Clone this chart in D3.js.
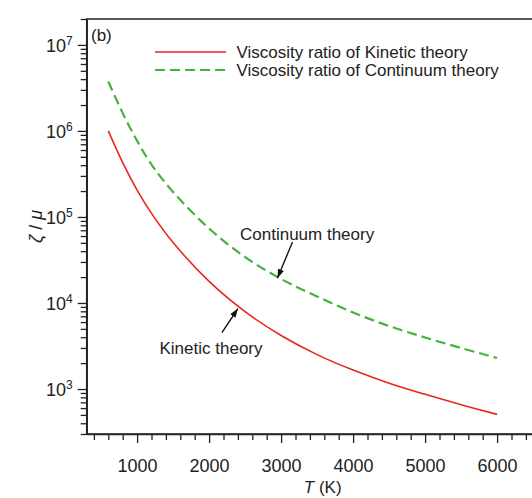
<!DOCTYPE html>
<html>
<head>
<meta charset="utf-8">
<script src="https://cdn.jsdelivr.net/npm/d3@7"></script>
<style>
  body { margin: 0; background: #fff; }
  svg { display: block; font-family: "Liberation Sans", Arial, sans-serif; }
</style>
</head>
<body>
<div id="chart"></div>
<script>
// Data
const TEMPS = [600, 800, 1000, 1200, 1500, 2000, 2500, 3000, 3500, 4000, 4500, 5000, 5500, 6000];
const KINETIC = [1.0e6, 4.27e5, 2.05e5, 1.1e5, 5.04e4, 1.78e4, 7.92e3, 4.19e3, 2.51e3, 1.66e3, 1.17e3, 868, 658, 507];
const CONTINUUM = [3.76e6, 1.61e6, 7.68e5, 4.07e5, 1.95e5, 7.34e4, 3.42e4, 1.9e4, 1.19e4, 7.75e3, 5.4e3, 3.97e3, 3.0e3, 2.29e3];
const SERIES_NAMES = ["Viscosity ratio of Kinetic theory", "Viscosity ratio of Continuum theory"];
const X_MAJOR = [1000, 2000, 3000, 4000, 5000, 6000];
const Y_MAJOR = [1e3, 1e4, 1e5, 1e6, 1e7];
const EXPONENTS = [3, 4, 5, 6, 7];

const FRAME_WIDTH = 532;
const FRAME_HEIGHT = 498;

const RED = "#e8261e";
const GREEN = "#45b23f";

const FRAME = d3.select("#chart")
                .append("svg")
                  .attr("width", FRAME_WIDTH)
                  .attr("height", FRAME_HEIGHT);

const X_SCALE = d3.scaleLinear()
                  .domain([300, 6800])
                  .range([86.7, 554.7]);

const Y_SCALE = d3.scaleLog()
                  .domain([300, 2e7])
                  .range([434, 19]);

// minor tick positions
const xMinor = d3.range(400, 6800, 200).filter(v => v % 1000 !== 0);
const yMinor = [];
for (let e = 2; e <= 7; e++) {
  for (let m = 2; m <= 9; m++) {
    const v = m * Math.pow(10, e);
    if (v >= 300 && v <= 2e7) yMinor.push(v);
  }
}

// frame (top / right)
FRAME.append("rect")
      .attr("x", X_SCALE(300))
      .attr("y", Y_SCALE(2e7))
      .attr("width", X_SCALE(6800) - X_SCALE(300))
      .attr("height", Y_SCALE(300) - Y_SCALE(2e7))
      .attr("fill", "none")
      .attr("stroke", "#222")
      .attr("stroke-width", 1.5);

// x axis minor
FRAME.append("g")
      .attr("transform", "translate(0," + Y_SCALE(300) + ")")
      .call(d3.axisBottom(X_SCALE).tickValues(xMinor).tickSize(6).tickSizeOuter(0).tickFormat(""))
      .call(g => g.select(".domain").remove())
      .selectAll("line").attr("stroke", "#222").attr("stroke-width", 1.3);

// x axis major
FRAME.append("g")
      .attr("transform", "translate(0," + Y_SCALE(300) + ")")
      .call(d3.axisBottom(X_SCALE).tickValues(X_MAJOR).tickSize(9).tickPadding(16).tickSizeOuter(0).tickFormat(d3.format("d")))
      .call(g => g.select(".domain").attr("stroke", "#222").attr("stroke-width", 1.5))
      .call(g => g.selectAll("line").attr("stroke", "#222").attr("stroke-width", 1.3))
      .call(g => g.selectAll("text").attr("font-size", "18px").attr("fill", "#222").attr("font-family", "Liberation Sans, Arial"));

// y axis minor
FRAME.append("g")
      .attr("transform", "translate(" + X_SCALE(300) + ",0)")
      .call(d3.axisLeft(Y_SCALE).tickValues(yMinor).tickSize(6).tickSizeOuter(0).tickFormat(""))
      .call(g => g.select(".domain").remove())
      .selectAll("line").attr("stroke", "#222").attr("stroke-width", 1.3);

// y axis major
const yAxis = FRAME.append("g")
      .attr("transform", "translate(" + X_SCALE(300) + ",0)")
      .call(d3.axisLeft(Y_SCALE).tickValues(Y_MAJOR).tickSize(9).tickSizeOuter(0).tickFormat(""))
      .call(g => g.select(".domain").attr("stroke", "#222").attr("stroke-width", 1.5))
      .call(g => g.selectAll("line").attr("stroke", "#222").attr("stroke-width", 1.3));

yAxis.selectAll(".tick").each(function(d, i) {
  const t = d3.select(this).append("text")
              .attr("x", -14)
              .attr("y", 6.5)
              .attr("text-anchor", "end")
              .attr("font-size", "18px")
              .attr("fill", "#222")
              .attr("font-family", "Liberation Sans, Arial");
  t.append("tspan").text("10");
  t.append("tspan").attr("font-size", "12px").attr("dy", "-7").text(EXPONENTS[i]);
});

// axis titles
FRAME.append("text")
      .attr("x", (X_SCALE(300) + X_SCALE(6800)) / 2 + 2)
      .attr("y", 493)
      .attr("text-anchor", "middle")
      .attr("font-size", "17px")
      .attr("fill", "#222")
      .call(t => t.append("tspan").attr("font-style", "italic").text("T"))
      .call(t => t.append("tspan").text(" (K)"));

FRAME.append("text")
      .attr("transform", "translate(42," + (Y_SCALE(300) + Y_SCALE(2e7)) / 2 + ") rotate(-90)")
      .attr("text-anchor", "middle")
      .attr("font-size", "18px")
      .attr("fill", "#222")
      .call(t => t.append("tspan").attr("font-style", "italic").text("ζ"))
      .call(t => t.append("tspan").text(" / "))
      .call(t => t.append("tspan").attr("font-style", "italic").text("μ"));

// panel label
FRAME.append("text")
      .attr("x", 91)
      .attr("y", 41)
      .attr("font-size", "17px")
      .attr("fill", "#222")
      .text("(b)");

// lines
const line = (vals) => d3.line()
                .x((d, i) => X_SCALE(TEMPS[i]))
                .y((d) => Y_SCALE(d))
                .curve(d3.curveCatmullRom.alpha(0.5))(vals);

FRAME.append("path")
      .attr("d", line(CONTINUUM))
      .attr("fill", "none")
      .attr("stroke", GREEN)
      .attr("stroke-width", 2.2)
      .attr("stroke-dasharray", "10,5");

FRAME.append("path")
      .attr("d", line(KINETIC))
      .attr("fill", "none")
      .attr("stroke", RED)
      .attr("stroke-width", 1.6);

// legend
const legendColors = [RED, GREEN];
const legendDash = [null, "10,5"];
SERIES_NAMES.forEach((name, i) => {
  const y = 52 + i * 18;
  FRAME.append("line")
        .attr("x1", 155).attr("x2", 226)
        .attr("y1", y).attr("y2", y)
        .attr("stroke", legendColors[i])
        .attr("stroke-width", i === 0 ? 1.6 : 2.2)
        .attr("stroke-dasharray", legendDash[i]);
  FRAME.append("text")
        .attr("x", 236.5)
        .attr("y", y + 5.5)
        .attr("font-size", "17px")
        .attr("fill", "#222")
        .text(name);
});

// annotations with arrows
FRAME.append("defs").append("marker")
      .attr("id", "arrow")
      .attr("viewBox", "0 0 10 10")
      .attr("refX", 10).attr("refY", 5)
      .attr("markerWidth", 9).attr("markerHeight", 9)
      .attr("markerUnits", "userSpaceOnUse")
      .attr("orient", "auto")
      .append("path")
        .attr("d", "M0,1.5 L10,5 L0,8.5 Z")
        .attr("fill", "#111");

const ANNOTATIONS = [
  {label: "Continuum theory", T: 2950, v: 1.95e4, tx: 240, ty: 239.5, dx: 15, dy: -36},
  {label: "Kinetic theory", T: 2400, v: 8.6e3, tx: 159.5, ty: 354, dx: -16, dy: 24}
];

ANNOTATIONS.forEach(a => {
  const px = X_SCALE(a.T), py = Y_SCALE(a.v);
  FRAME.append("line")
        .attr("x1", px + a.dx).attr("y1", py + a.dy)
        .attr("x2", px).attr("y2", py)
        .attr("stroke", "#111")
        .attr("stroke-width", 1.4)
        .attr("marker-end", "url(#arrow)");
  FRAME.append("text")
        .attr("x", a.tx)
        .attr("y", a.ty)
        .attr("font-size", "17px")
        .attr("fill", "#222")
        .text(a.label);
});
</script>
</body>
</html>
